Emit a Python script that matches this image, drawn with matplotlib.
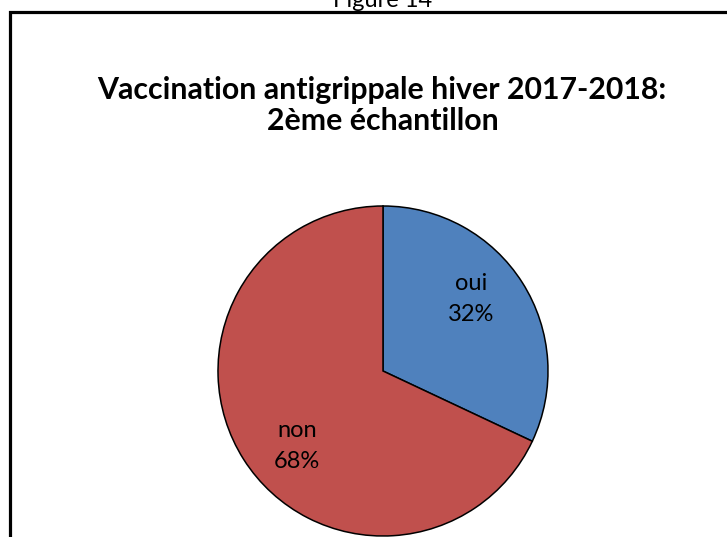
import numpy as np
import matplotlib
matplotlib.use("Agg")
import matplotlib.pyplot as plt
from matplotlib.patches import Rectangle

# ---- data ----
categories = ["oui", "non"]
values = [32, 68]
colors = ["#4F81BD", "#C0504D"]
title_lines = ["Vaccination antigrippale hiver 2017-2018:", "2ème échantillon"]
caption = "Figure 14"

W, H = 727, 537
DPI = 100
fig = plt.figure(figsize=(W / DPI, H / DPI), dpi=DPI)
plt.rcParams['font.family'] = ['Lato', 'DejaVu Sans']

def fx(px):
    return px / W

def fy(py_top):
    return 1 - py_top / H

# outer chart-area border (extends beyond image right/bottom)
border = Rectangle((fx(9.5), fy(600)), fx(1000), fy(11.8) - fy(600),
                   transform=fig.transFigure, fill=False, edgecolor="black",
                   linewidth=2.3, clip_on=False)
fig.patches.append(border)

# caption above box (cut off at the top, as in the reference)
fig.text(fx(383), fy(7), caption, ha="center", va="baseline", fontsize=17, color="black")

# title, fitted to width
renderer = fig.canvas.get_renderer()
t1 = fig.text(fx(382), fy(99), title_lines[0], ha="center", va="baseline",
              fontsize=17, fontweight="bold")
bb = t1.get_window_extent(renderer)
fs = 17 * 570 / bb.width
t1.set_fontsize(fs)
fig.text(fx(383), fy(130.5), title_lines[1], ha="center", va="baseline",
         fontsize=fs, fontweight="bold")

# pie
cx, cy, r = 383, 371, 165
ax = fig.add_axes([fx(cx - r), fy(cy + r), fx(2 * r), (2 * r) / H])
wedges, _ = ax.pie(values, colors=colors, startangle=90, counterclock=False,
                   radius=1.0, wedgeprops=dict(edgecolor="black", linewidth=1.1))
ax.set_xlim(-1, 1)
ax.set_ylim(-1, 1)
ax.set_aspect("equal")
ax.axis("off")

# labels
label_angles = [39.3, 221.0]
label_dist = 0.69
for cat, v, ang in zip(categories, values, label_angles):
    a = np.deg2rad(ang)
    ax.text(label_dist * np.cos(a), label_dist * np.sin(a), f"{cat}\n{v}%",
            ha="center", va="center", fontsize=17, linespacing=1.6, color="black")

fig.savefig("out.png", dpi=DPI)
